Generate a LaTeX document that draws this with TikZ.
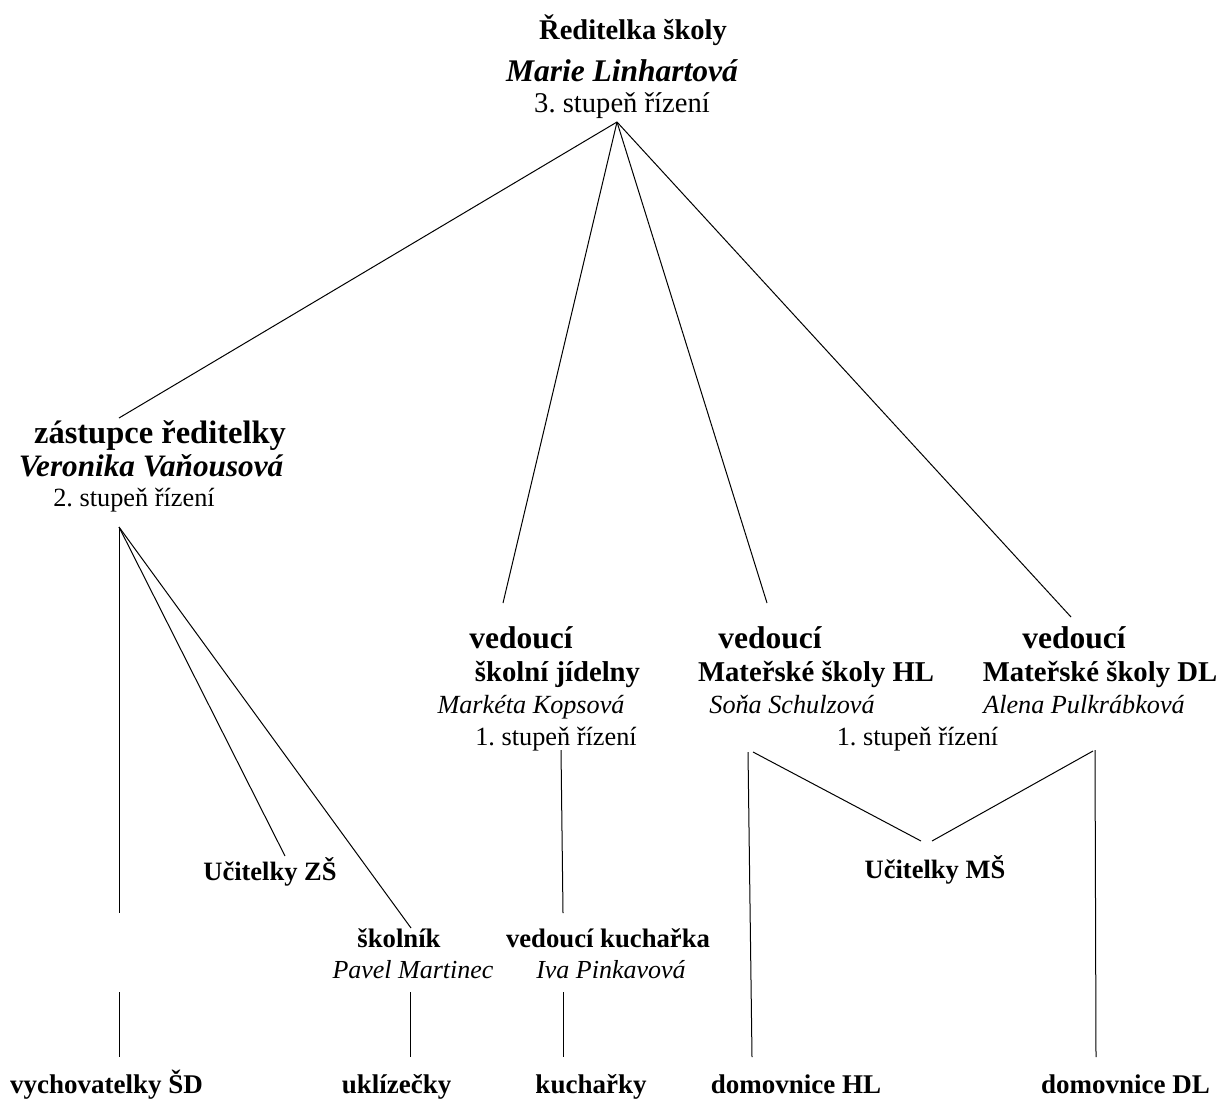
\documentclass[tikz,border=0pt]{standalone}
\usepackage{fontspec}
\setmainfont{Liberation Serif}
\frenchspacing
\newcommand\fsz[1]{\fontsize{#1}{#1}\selectfont}
\begin{document}
\begin{tikzpicture}[x=1pt,y=-1pt,
  lbl/.style={anchor=base,inner sep=0pt},
  bt/.style={lbl,font=\bfseries\fsz{#1}},
  it/.style={lbl,font=\itshape\fsz{#1}},
  bit/.style={lbl,font=\bfseries\itshape\fsz{#1}},
  rm/.style={lbl,font=\fsz{#1}},
  conn/.style={line width=1pt}]
\useasboundingbox[fill=white] (0,0) rectangle (1222,1102);

% top
\node[bt=28.5] (r1) at (633,40) {Ředitelka školy};
\node[bit=31.5] (r2) at (622,82) {Marie Linhartová};
\node[rm=28.6] (r3) at (622,113) {3. stupeň řízení};

% deputy
\node[bt=32.5] (z1) at (160,443) {zástupce ředitelky};
\node[bit=31.2] (z2) at (151,476) {Veronika Vaňousová};
\node[rm=26.3] (z3) at (134,506) {2. stupeň řízení};

% canteen head
\node[bt=31.5] (j1) at (521,648) {vedoucí};
\node[bt=28.7] (j2) at (557.5,681) {školní jídelny};
\node[it=26.2] (j3) at (531,713) {Markéta Kopsová};
\node[rm=26.3] (j4) at (556,745) {1. stupeň řízení};

% MS HL
\node[bt=31.5] (h1) at (770,648) {vedoucí};
\node[bt=28.7] (h2) at (816,681) {Mateřské školy HL};
\node[it=26.2] (h3) at (792,713) {Soňa Schulzová};

% MS DL
\node[bt=31.5] (d1) at (1074,648) {vedoucí};
\node[bt=28.7] (d2) at (1100,681) {Mateřské školy DL};
\node[it=26.2] (d3) at (1084,713) {Alena Pulkrábková};
\node[rm=26.3] (m4) at (917.5,745) {1. stupeň řízení};

% middle level
\node[bt=26.5] (uzs) at (270,880) {Učitelky ZŠ};
\node[bt=26.5] (ums) at (935,878) {Učitelky MŠ};
\node[bt=26.7] (sk1) at (399,947) {školník};
\node[it=26] (sk2) at (413,978) {Pavel Martinec};
\node[bt=26.7] (vk1) at (608,947) {vedoucí kuchařka};
\node[it=26] (vk2) at (611,978) {Iva Pinkavová};

% bottom
\node[bt=27] (b1) at (106.5,1093) {vychovatelky ŠD};
\node[bt=27] (b2) at (396.5,1093) {uklízečky};
\node[bt=27] (b3) at (591,1093) {kuchařky};
\node[bt=27] (b4) at (796,1093) {domovnice HL};
\node[bt=27] (b5) at (1125.5,1093) {domovnice DL};

% connector end points
\coordinate (apex) at (617,122);
\coordinate (zT) at (119,418);
\coordinate (jT) at (503,603);
\coordinate (hT) at (767,603);
\coordinate (dT) at (1071,617);
\coordinate (zB) at (119,527);
\coordinate (zV) at (119,913);
\coordinate (uzsT) at (285,856);
\coordinate (skT) at (411,928);
\coordinate (jB) at (561,750);
\coordinate (vkT) at (563,913);
\coordinate (b1T) at (119,992);
\coordinate (b1B) at (119,1057);
\coordinate (skB) at (410,992);
\coordinate (b2T) at (410,1057);
\coordinate (vkB) at (563,992);
\coordinate (b3T) at (563,1057);
\coordinate (hB) at (748,752);
\coordinate (b4T) at (752,1057);
\coordinate (dB) at (1095,750);
\coordinate (b5T) at (1096,1057);
\coordinate (hV) at (753,752);
\coordinate (umsL) at (921,841);
\coordinate (dV) at (1093,751);
\coordinate (umsR) at (932,841);

\draw[conn] (apex) -- (zT);
\draw[conn] (apex) -- (jT);
\draw[conn] (apex) -- (hT);
\draw[conn] (apex) -- (dT);
\draw[conn] (zB) -- (zV);
\draw[conn] (zB) -- (uzsT);
\draw[conn] (zB) -- (skT);
\draw[conn] (jB) -- (vkT);
\draw[conn] (b1T) -- (b1B);
\draw[conn] (skB) -- (b2T);
\draw[conn] (vkB) -- (b3T);
\draw[conn] (hB) -- (b4T);
\draw[conn] (dB) -- (b5T);
\draw[conn] (hV) -- (umsL);
\draw[conn] (dV) -- (umsR);
\end{tikzpicture}
\end{document}
